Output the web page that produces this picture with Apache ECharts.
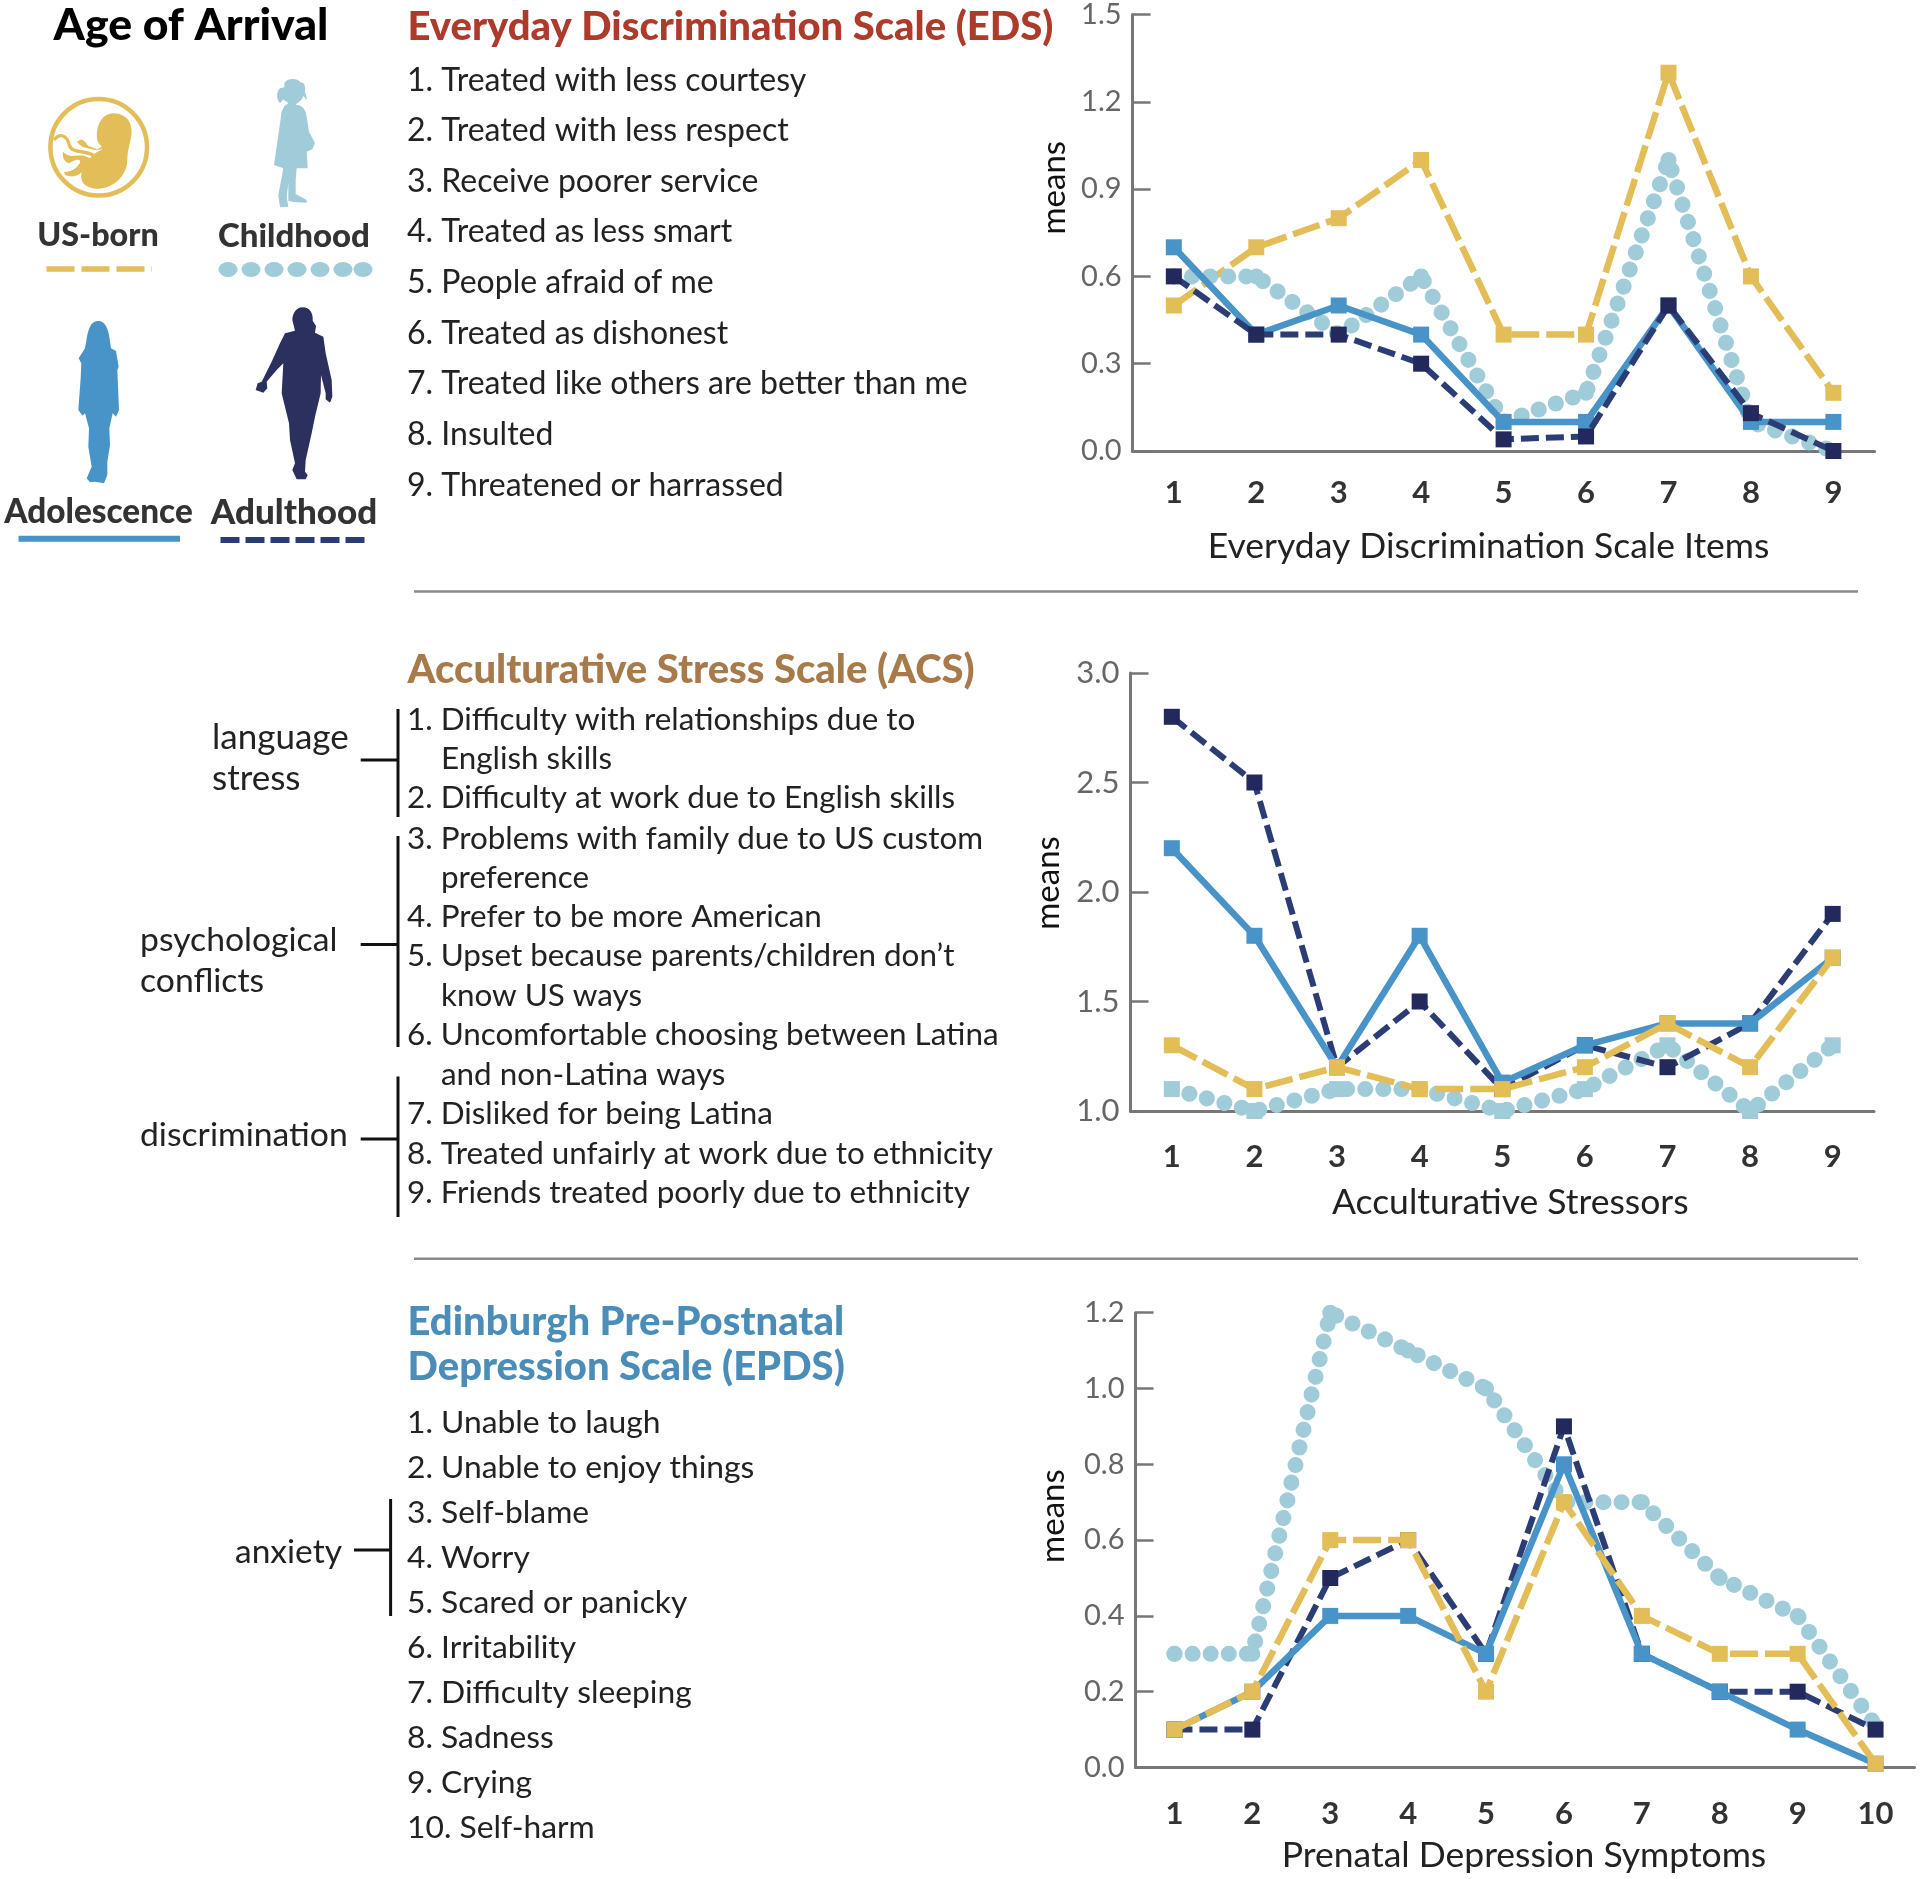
<!DOCTYPE html>
<html><head><meta charset="utf-8"><style>html,body{margin:0;padding:0;background:#fff}#c{width:1920px;height:1879px}</style>
<script src="https://cdn.jsdelivr.net/npm/echarts@6/dist/echarts.min.js"></script></head><body><div id="c"></div>
<script>
var FONT='Lato';
var edsCats=['1','2','3','4','5','6','7','8','9'];
var edsUS=[0.5,0.7,0.8,1.0,0.4,0.4,1.3,0.6,0.2];
var edsChild=[0.6,0.6,0.4,0.6,0.1,0.2,1.0,0.1,0];
var edsAdol=[0.7,0.4,0.5,0.4,0.1,0.1,0.5,0.1,0.1];
var edsAdult=[0.6,0.4,0.4,0.3,0.04,0.05,0.5,0.13,0];
var acsCats=['1','2','3','4','5','6','7','8','9'];
var acsUS=[1.3,1.1,1.2,1.1,1.1,1.2,1.4,1.2,1.7];
var acsChild=[1.1,1.0,1.1,1.1,1.0,1.1,1.3,1.0,1.3];
var acsAdol=[2.2,1.8,1.2,1.8,1.13,1.3,1.4,1.4,1.7];
var acsAdult=[2.8,2.5,1.2,1.5,1.1,1.3,1.2,1.4,1.9];
var epdsCats=['1','2','3','4','5','6','7','8','9','10'];
var epdsUS=[0.1,0.2,0.6,0.6,0.2,0.7,0.4,0.3,0.3,0.01];
var epdsChild=[0.3,0.3,1.2,1.1,1.0,0.7,0.7,0.5,0.4,0.11];
var epdsAdol=[0.1,0.2,0.4,0.4,0.3,0.8,0.3,0.2,0.1,0.01];
var epdsAdult=[0.1,0.1,0.5,0.6,0.3,0.9,0.3,0.2,0.2,0.1];
var edsItems=['1. Treated with less courtesy','2. Treated with less respect','3. Receive poorer service','4. Treated as less smart','5. People afraid of me','6. Treated as dishonest','7. Treated like others are better than me','8. Insulted','9. Threatened or harrassed'];
var acsItems=['1. Difficulty with relationships due to','2. Difficulty at work due to English skills','3. Problems with family due to US custom','4. Prefer to be more American','5. Upset because parents/children don\u2019t','6. Uncomfortable choosing between Latina','7. Disliked for being Latina','8. Treated unfairly at work due to ethnicity','9. Friends treated poorly due to ethnicity'];
var acsWrapped=['English skills','preference','know US ways','and non-Latina ways'];
var epdsItems=['1. Unable to laugh','2. Unable to enjoy things','3. Self-blame','4. Worry','5. Scared or panicky','6. Irritability','7. Difficulty sleeping','8. Sadness','9. Crying','10. Self-harm'];

var C={us:'#e3bd58',child:'#9fccd8',adol:'#4894c8',adult:'#2b3d74',adultM:'#23295c'};
var HEAVY=900;
var g=[];
var pathId=0;
function T(s,x,y,o){o=o||{};g.push({type:'text',silent:true,z:5,style:{text:s,x:x,y:y,fill:o.c||'#222',fontFamily:FONT,fontSize:o.s||32,fontWeight:o.w||'normal',textAlign:o.a||'left',textVerticalAlign:'middle'}});}
function L(x1,y1,x2,y2,c,w,dash,cap){g.push({type:'line',silent:true,z:5,shape:{x1:x1,y1:y1,x2:x2,y2:y2},style:{stroke:c,lineWidth:w,lineDash:dash||null,lineCap:cap||'butt'}});}
function P(d,x,y,style){var n='sil'+(pathId++);echarts.graphic.registerShape(n,echarts.graphic.extendPath(d,{}));g.push({type:n,silent:true,z:5,x:x,y:y,scaleX:1/3,scaleY:1/3,style:style});}
// header + figures
T('Age of Arrival',191,25.5,{s:44.6,w:HEAVY,c:'#000',a:'center'});
g.push({type:'circle',silent:true,z:5,shape:{cx:98.7,cy:147.3,r:48.3},style:{fill:'none',stroke:C.us,lineWidth:4.5}});
P('M172 150C168 130 172 100 190 82C215 60 260 68 272 105C282 140 262 165 262 210C262 260 215 298 170 296C135 295 118 275 125 245C118 255 100 265 75 255L72 246C90 245 105 240 118 222C125 208 115 205 95 215C85 222 78 220 70 205L68 185C75 190 80 195 92 198C110 198 130 192 150 205C160 190 175 185 188 178L165 180C150 175 130 175 120 165L110 155L125 148L135 155L145 168L172 178L185 170L176 160Z',40,90,{fill:C.us});
P('M42 150C60 128 80 135 88 165C95 190 130 180 160 195',40,90,{fill:'none',stroke:C.us,lineWidth:10});
P('M178 40C185 25 215 22 228 38C238 36 242 50 240 65L247 90L235 78L230 88C222 98 215 100 212 104C230 105 242 115 245 140L252 185L270 220L262 238L245 245L248 295L215 295L212 330L212 372L245 390L245 398L205 396L190 392L190 340L185 380L190 410L165 412L160 375L175 295L147 285L160 195L170 125L178 108L190 100C185 95 178 92 175 88L165 100C155 90 152 65 165 55L178 52Z',225,70,{fill:C.child});
P('M205 18C225 18 233 40 237 60L243 100L258 108L266 155L262 165L267 285L258 305L248 295L238 340L240 390L232 440L232 480L222 505L195 500L180 502L170 490L185 455L175 395L177 340L165 295L158 302L145 285L152 190L154 145L146 130L165 100L172 60C178 35 185 18 205 18Z',30,315,{fill:C.adol});
P('M262 22C285 22 295 40 293 62L303 78L300 98L325 110L332 160L350 240L352 290L345 308L332 298L332 280L318 225L317 280L300 350L290 400L272 480L270 515L278 525L272 538L245 538L232 510L240 490L225 420L222 370L200 280L205 190L185 210L155 245L157 265L145 278L122 270L128 250L140 245L170 185L195 130L210 100L240 92L232 60C232 40 245 22 262 22Z',215,300,{fill:'#2b305f'});
T('US-born',98,236,{s:32.3,w:HEAVY,c:'#333',a:'center'});
T('Childhood',294,236,{s:33,w:HEAVY,c:'#333',a:'center'});
T('Adolescence',98.5,512,{s:33.3,w:HEAVY,c:'#333',a:'center'});
T('Adulthood',294,513,{s:35,w:HEAVY,c:'#333',a:'center'});
L(46.5,269,152,269,C.us,5.5,[28,7]);
var legendDotX=[228,251,274,297,320,343,363];
legendDotX.forEach(function(x){P('M-28.5 0A28.5 22.5 0 1 0 28.5 0A28.5 22.5 0 1 0 -28.5 0Z',x,269.5,{fill:C.child});});
L(18.5,538.7,180,538.7,C.adol,6);
L(220.5,540,367,540,C.adult,6,[19,6]);
// EDS text
T('Everyday Discrimination Scale (EDS)',407.5,27,{s:40,w:HEAVY,c:'#ad3a2b'});
var edsY=[80.5,131,182,232,283,334,384,434.5,486];
edsItems.forEach(function(s,i){T(s,407,edsY[i]);});
L(414,591.4,1858,591.4,'#8a8a8a',2.5);
// ACS text
T('Acculturative Stress Scale (ACS)',407.5,670.5,{s:40,w:HEAVY,c:'#a87a4a'});
var acsY=[720,798,839,917,956,1035,1114,1153.5,1193];
acsItems.forEach(function(s,i){T(s,407,acsY[i],{s:31.4});});
var acsWrapY=[759,878,995.5,1075];
acsWrapped.forEach(function(s,i){T(s,441,acsWrapY[i],{s:31.4});});
L(398,709,398,817,'#111',3);L(398,836,398,1047,'#111',3);L(398,1076.5,398,1217,'#111',3);
L(360.7,760,398,760,'#111',3);L(360.7,944.6,398,944.6,'#111',3);L(360.7,1139,398,1139,'#111',3);
T('language',212,738,{s:35});T('stress',212,779,{s:35});
T('psychological',140,940,{s:33.7});T('conflicts',140,981.5,{s:33.7});
T('discrimination',140,1135,{s:33.7});
L(414,1258.8,1858,1258.8,'#8a8a8a',2.5);
// EPDS text
T('Edinburgh Pre-Postnatal',407.5,1322,{s:40,w:HEAVY,c:'#4a8db8'});
T('Depression Scale (EPDS)',407.5,1367,{s:40,w:HEAVY,c:'#4a8db8'});
var epdsY=[1423,1468,1513,1557.6,1603,1648,1693,1737.6,1783,1828];
epdsItems.forEach(function(s,i){T(s,407,epdsY[i],{s:31.8});});
L(390.6,1499,390.6,1616,'#111',3);L(354,1550,390.6,1550,'#111',3);
T('anxiety',235,1552,{s:33.5});

var grids=[{left:1132.6,top:12.5,width:742,height:438.5},{left:1130.5,top:673,width:743.5,height:438},{left:1135.5,top:1312.7,width:779,height:454.8}];
var xCats=[edsCats,acsCats,epdsCats];
var xNames=['Everyday Discrimination Scale Items','Acculturative Stressors','Prenatal Depression Symptoms'];
var xGap=[78,74,70],xPad=[[0,30,0,0],[0,0,0,16],[0,2,0,0]],xMargin=[26,30,31];
var yMin=[0,1,0],yMax=[1.5,3,1.2],yInt=[0.3,0.5,0.2],yLabelSize=[29,31,29];
var yGap=[62,66,66],yPad=[[0,0,0,90],[0,0,0,18],[0,0,0,48]];
var axisCol='#777';
var xAxes=grids.map(function(_,i){return {gridIndex:i,type:'category',data:xCats[i],boundaryGap:true,name:xNames[i],nameLocation:'middle',nameGap:xGap[i],nameTextStyle:{fontFamily:FONT,fontSize:35.5,color:'#222',padding:xPad[i]},
 axisLine:{lineStyle:{color:axisCol,width:3}},axisTick:{alignWithLabel:true,length:16,lineStyle:{color:axisCol,width:2.5}},axisLabel:{margin:xMargin[i],fontFamily:FONT,fontSize:31,fontWeight:'bold',color:'#333'},splitLine:{show:false}};});
var yAxes=grids.map(function(_,i){return {gridIndex:i,type:'value',min:yMin[i],max:yMax[i],interval:yInt[i],name:'means',nameLocation:'middle',nameGap:yGap[i],nameTextStyle:{fontFamily:FONT,fontSize:33,color:'#111',padding:yPad[i]},
 axisLine:{show:true,lineStyle:{color:axisCol,width:3}},axisTick:{show:true,inside:true,length:18,lineStyle:{color:axisCol,width:2.5}},axisLabel:{margin:11,fontFamily:FONT,fontSize:yLabelSize[i],color:'#666',formatter:function(v){return v.toFixed(1);}},splitLine:{show:false}};});
function S(name,data,i,kind,z,childSym){
 var st={us:{c:C.us,m:C.us,w:6.5,d:[28,7],cap:'butt',sym:'rect',sz:16},child:{c:C.child,m:C.child,w:16,d:[0.1,18],cap:'round',sym:childSym||'circle',sz:16},adol:{c:C.adol,m:C.adol,w:6.5,d:null,cap:'butt',sym:'rect',sz:16},adult:{c:C.adult,m:C.adultM,w:6,d:[18,7],cap:'butt',sym:'rect',sz:16}}[kind];
 return {type:'line',name:name,data:data,xAxisIndex:i,yAxisIndex:i,z:z,clip:false,symbol:st.sym,symbolSize:st.sz,showSymbol:true,showAllSymbol:true,itemStyle:{color:st.m,borderWidth:0},lineStyle:{color:st.c,width:st.w,type:st.d||'solid',cap:st.cap,join:'round'},emphasis:{disabled:true},silent:true,animation:false};
}
var series=[
 S('US-born',edsUS,0,'us',2),S('Childhood',edsChild,0,'child',3),S('Adolescence',edsAdol,0,'adol',4),S('Adulthood',edsAdult,0,'adult',5),
 S('Childhood',acsChild,1,'child',2,'rect'),S('Adulthood',acsAdult,1,'adult',3),S('Adolescence',acsAdol,1,'adol',4),S('US-born',acsUS,1,'us',5),
 S('Childhood',epdsChild,2,'child',2),S('Adulthood',epdsAdult,2,'adult',3),S('Adolescence',epdsAdol,2,'adol',4),S('US-born',epdsUS,2,'us',5)
];
var chart=echarts.init(document.getElementById('c'),null,{renderer:'canvas',width:1920,height:1879});
chart.setOption({animation:false,backgroundColor:'#fff',textStyle:{fontFamily:FONT},grid:grids,xAxis:xAxes,yAxis:yAxes,series:series,graphic:{elements:g}});
</script></body></html>
